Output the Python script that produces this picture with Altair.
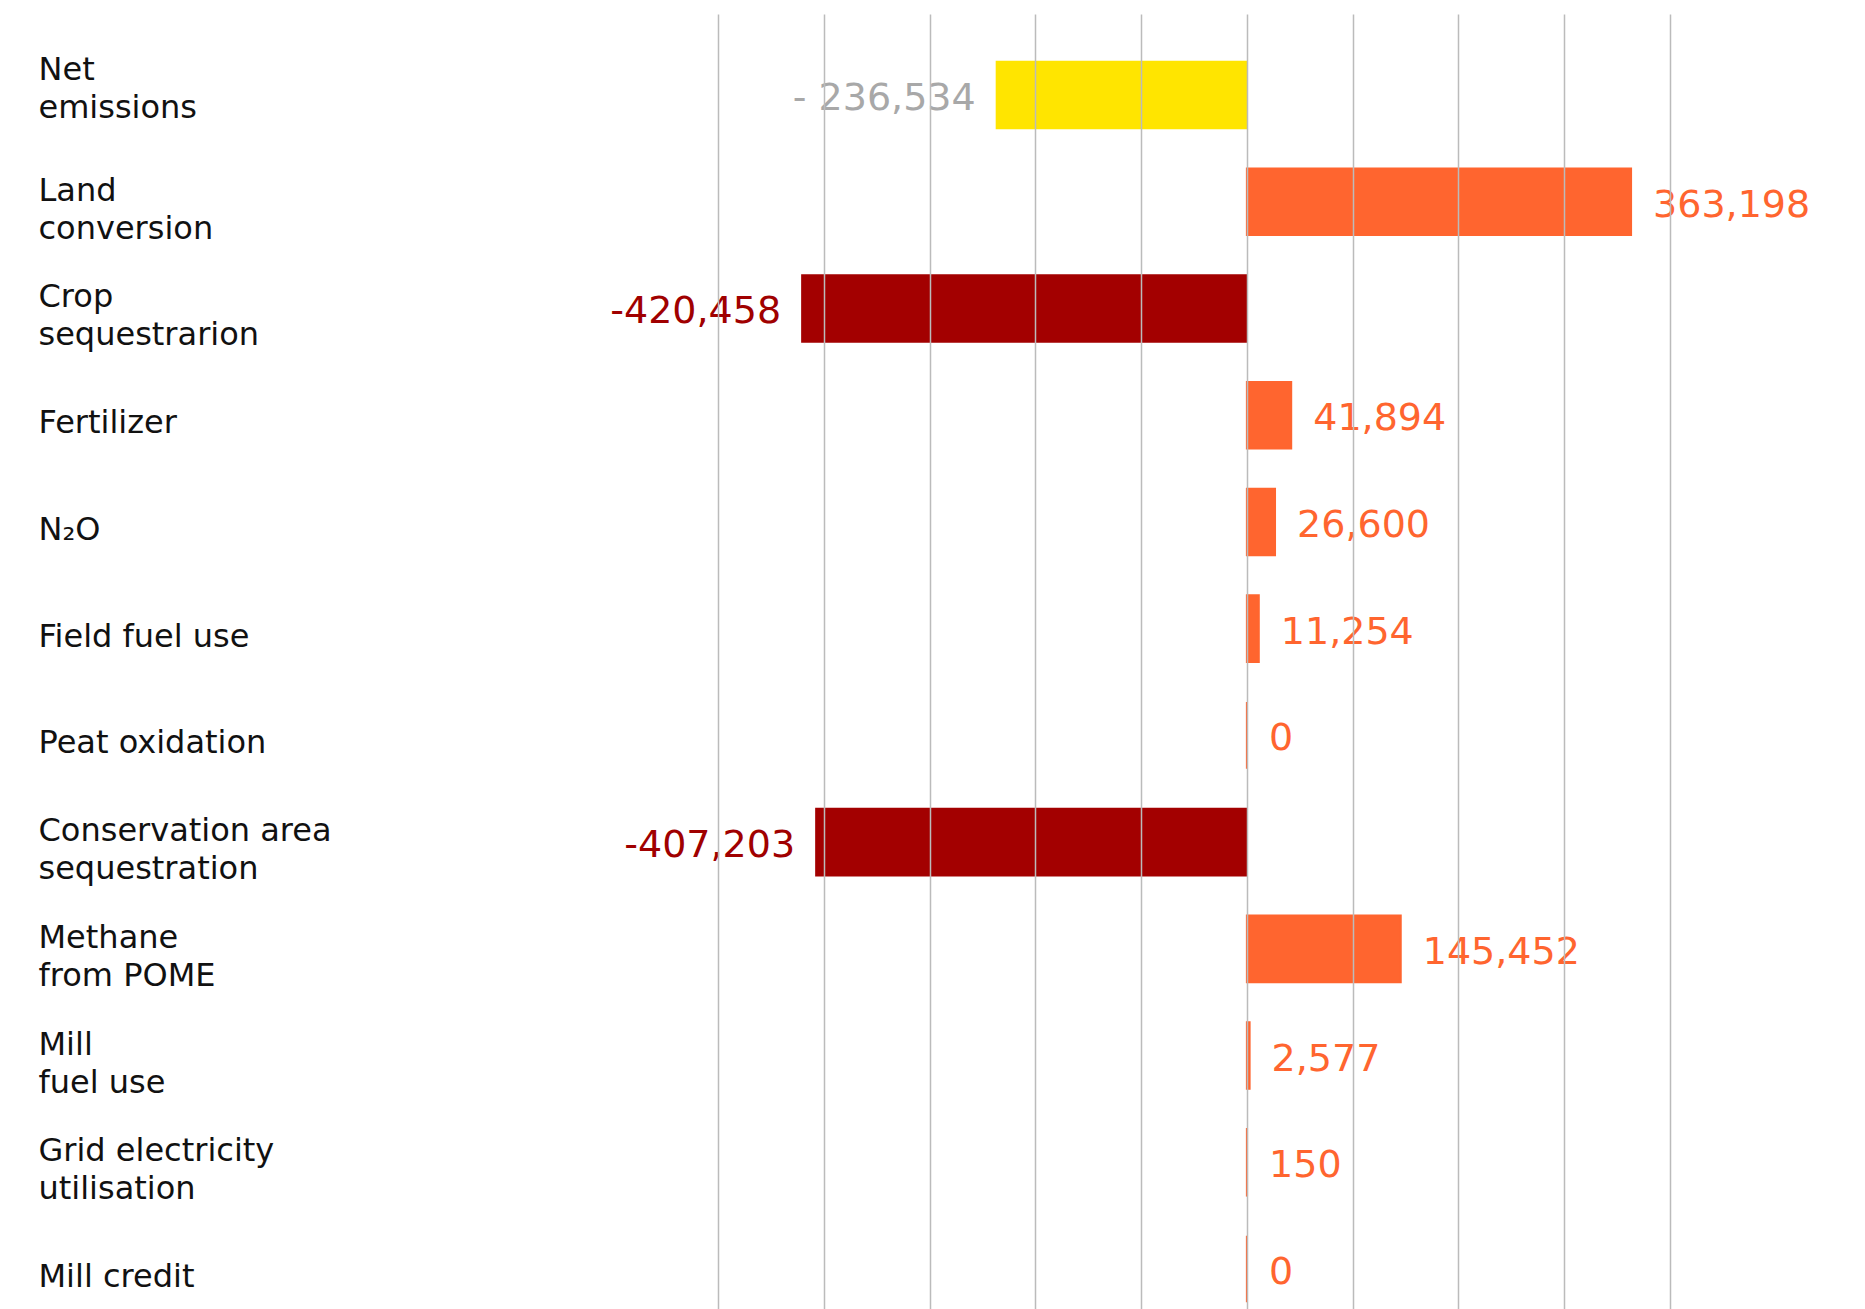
import altair as alt
import pandas as pd

# ---- data ----
categories = [
    "Net|emissions",
    "Land|conversion",
    "Crop|sequestrarion",
    "Fertilizer",
    "N\u2082O",
    "Field fuel use",
    "Peat oxidation",
    "Conservation area|sequestration",
    "Methane|from POME",
    "Mill|fuel use",
    "Grid electricity|utilisation",
    "Mill credit",
]
values = [-236534, 363198, -420458, 41894, 26600, 11254, 0, -407203, 145452, 2577, 150, 0]
value_labels = ["- 236,534", "363,198", "-420,458", "41,894", "26,600", "11,254", "0",
                "-407,203", "145,452", "2,577", "150", "0"]
kinds = ["net", "pos", "neg", "pos", "pos", "pos", "pos", "neg", "pos", "pos", "pos", "pos"]
grid_ticks = [-500000, -400000, -300000, -200000, -100000, 0, 100000, 200000, 300000, 400000]

df = pd.DataFrame({
    "category": categories,
    "value": values,
    "label": value_labels,
    "kind": kinds,
})

kind_domain = ["net", "pos", "neg"]
bar_range = ["#FFE500", "#FF652F", "#A30000"]
text_range = ["#A8A8A8", "#FF652F", "#A00000"]

y_enc = alt.Y(
    "category:N",
    sort=categories,
    scale=alt.Scale(paddingInner=0.376, paddingOuter=0.255, align=0.877),
    axis=alt.Axis(
        title=None, domain=False, ticks=False, tickSize=0,
        labelAlign="left", labelPadding=680, labelBaseline="middle",
        labelFont="DejaVu Sans", labelFontSize=32, labelColor="#111111",
        labelLineHeight=38, labelLimit=0,
        labelOffset={
            "condition": [
                {"test": "datum.value === 'Net|emissions'", "value": -25},
                {"test": "indexof(datum.value, '|') >= 0", "value": -11},
            ],
            "value": 8,
        },
        labelExpr="split(datum.label, '|')",
    ),
)

x_enc = alt.X(
    "value:Q",
    scale=alt.Scale(domain=[-500000, 400000], nice=False, zero=False),
    axis=alt.Axis(
        values=grid_ticks, labels=False, ticks=False, domain=False, title=None,
        grid=True, gridColor="#BBBBBB", gridWidth=1.5, zindex=1,
    ),
)

base = alt.Chart(df)

bars = base.mark_bar(strokeWidth=2).encode(
    x=x_enc,
    x2=alt.datum(0),
    y=y_enc,
    color=alt.Color("kind:N", scale=alt.Scale(domain=kind_domain, range=bar_range), legend=None),
    stroke=alt.Stroke("kind:N", scale=alt.Scale(domain=kind_domain, range=bar_range), legend=None),
)

text_style = dict(font="DejaVu Sans", fontSize=38, baseline="middle", dy=4)

pos_text = base.transform_filter("datum.value >= 0").mark_text(
    align="left", dx=22, **text_style
).encode(
    x=alt.X("value:Q"),
    y=alt.Y("category:N", sort=categories),
    text="label:N",
    color=alt.Color("kind:N", scale=alt.Scale(domain=kind_domain, range=text_range), legend=None),
)

neg_text = base.transform_filter("datum.value < 0").mark_text(
    align="right", dx=-21, **text_style
).encode(
    x=alt.X("value:Q"),
    y=alt.Y("category:N", sort=categories),
    text="label:N",
    color=alt.Color("kind:N", scale=alt.Scale(domain=kind_domain, range=text_range), legend=None),
)

chart = alt.layer(bars, pos_text, neg_text).resolve_scale(
    color="independent", stroke="independent"
).properties(
    width=952,
    height=1295,
    autosize=alt.AutoSizeParams(type="none"),
    padding={"left": 718, "top": 14, "right": 180, "bottom": 0},
    background="white",
).configure_view(stroke=None)

chart.save("out.html", embed_options={"renderer": "svg", "actions": False})
